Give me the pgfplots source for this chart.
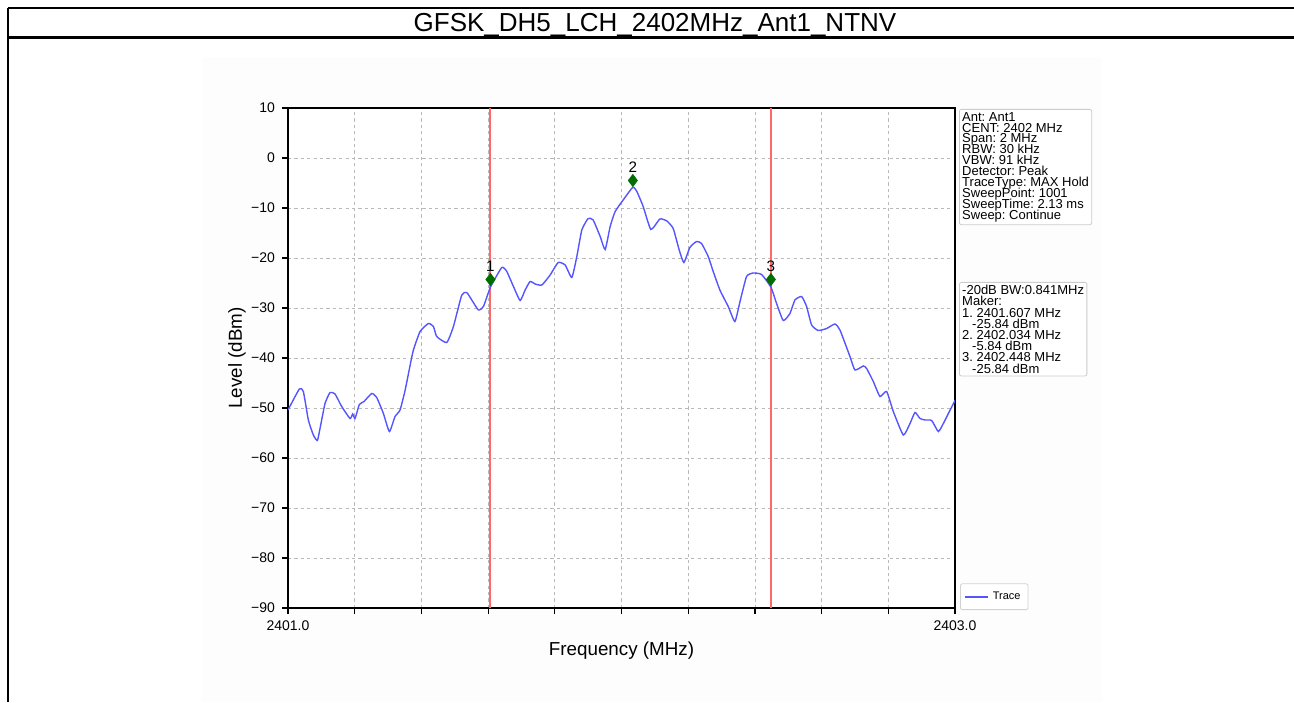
\documentclass[border=0pt]{standalone}
\usepackage{fontspec}
\setmainfont{Liberation Sans}
\usepackage{pgfplots}
\usepackage{pgfplotstable}
\pgfplotsset{compat=1.18}
\frenchspacing
\newcommand{\tightlines}{\lineskiplimit=-10pt\relax\lineskip=0pt\relax}
\definecolor{tracecol}{RGB}{85,85,255}
\definecolor{mkline}{RGB}{255,105,105}
\definecolor{mkgreen}{RGB}{0,110,0}
\definecolor{bgfaint}{RGB}{253,253,253}
% x = frequency offset from 2401.0 MHz
\pgfplotstableread{
x y
0.000 -50.4
0.034 -46.2
0.046 -46.7
0.061 -52.4
0.076 -55.4
0.088 -56.5
0.096 -54.1
0.111 -49.1
0.126 -46.9
0.141 -47.2
0.161 -49.7
0.186 -52.1
0.194 -51.2
0.201 -52.1
0.214 -49.3
0.228 -48.7
0.251 -47.1
0.266 -47.9
0.286 -51.1
0.304 -54.7
0.321 -51.7
0.336 -50.4
0.351 -46.5
0.366 -41.5
0.376 -38.4
0.396 -34.7
0.421 -33.1
0.436 -33.7
0.446 -35.7
0.476 -36.9
0.496 -33.7
0.521 -27.4
0.536 -26.9
0.551 -28.4
0.571 -30.4
0.586 -29.7
0.607 -25.84
0.641 -21.9
0.656 -22.7
0.676 -25.7
0.696 -28.5
0.711 -26.4
0.726 -24.7
0.741 -25.2
0.761 -25.4
0.786 -23.4
0.810 -20.9
0.831 -21.4
0.851 -23.9
0.866 -19.7
0.881 -14.4
0.900 -12.1
0.915 -12.4
0.936 -15.7
0.951 -18.3
0.966 -13.7
0.981 -10.7
1.005 -8.4
1.034 -5.84
1.046 -6.7
1.065 -9.7
1.088 -14.3
1.115 -12.2
1.136 -12.6
1.155 -14.1
1.173 -18.4
1.187 -20.9
1.205 -17.9
1.225 -16.7
1.240 -17.1
1.260 -19.7
1.275 -22.7
1.295 -26.4
1.320 -29.7
1.340 -32.7
1.355 -28.8
1.375 -23.7
1.395 -23.0
1.420 -23.3
1.448 -25.84
1.465 -29.1
1.485 -32.5
1.505 -31.1
1.520 -28.4
1.540 -27.7
1.555 -29.7
1.570 -33.4
1.590 -34.5
1.615 -34.1
1.640 -33.2
1.655 -34.4
1.685 -39.7
1.700 -42.4
1.725 -41.6
1.735 -42.1
1.755 -44.7
1.775 -47.7
1.795 -46.7
1.815 -50.7
1.845 -55.4
1.865 -53.1
1.880 -50.9
1.895 -52.1
1.910 -52.4
1.930 -52.5
1.950 -54.7
1.965 -53.1
1.980 -51.1
2.000 -48.5
}\tracedata
\pgfplotstableread{
x y label
0.607 -24.3 1
1.034 -4.5 2
1.448 -24.3 3
}\markerdata
\begin{document}
\begin{tikzpicture}[x=0.5pt,y=0.5pt]
% pixel coordinates: (px, 702-py)
\useasboundingbox (0,0) rectangle (1294,702);
\fill[bgfaint] (202,0) rectangle (1102,645);
% frame
\draw[line width=1.1pt] (8,694) -- (1294,694);
\draw[line width=1.1pt] (8,664.5) -- (1294,664.5);
\draw[line width=0.9pt] (8,694) -- (8,0);
\node[font=\fontsize{13}{15}\selectfont] at (655,677) {GFSK\_DH5\_LCH\_2402MHz\_Ant1\_NTNV};
\begin{axis}[
  at={(144pt,47pt)}, anchor=south west,
  scale only axis, width=333.5pt, height=250pt,
  axis background/.style={fill=white},
  xmin=0, xmax=2, ymin=-90, ymax=10,
  xtick={0,0.2,0.4,0.6,0.8,1.0,1.2,1.4,1.6,1.8,2.0},
  xticklabels={2401.0,,,,,,,,,,2403.0},
  ytick={-90,-80,-70,-60,-50,-40,-30,-20,-10,0,10},
  yticklabels={−90,−80,−70,−60,−50,−40,−30,−20,−10,0,10},
  tick label style={font=\fontsize{7}{8}\selectfont, black},
  grid=major,
  major grid style={gray!55, line width=0.35pt, dash pattern=on 1.6pt off 1.6pt},
  tick align=outside, tick pos=left, major tick length=3pt,
  every tick/.style={black, line width=0.6pt},
  axis line style={black, line width=0.8pt},
  xlabel={Frequency (MHz)}, ylabel={Level (dBm)},
  label style={font=\fontsize{9.4}{11}\selectfont},
  xlabel style={at={(axis description cs:0.5,-0.086)}, anchor=center},
  ylabel style={at={(axis description cs:-0.0765,0.5)}, anchor=center},
  legend style={at={(axis description cs:1,0)}, anchor=south west, xshift=2.5pt, yshift=-1pt,
    font=\fontsize{5.5}{6.5}\selectfont, draw=gray!35, rounded corners=1pt, inner sep=1.8pt,
    legend cell align=left},
  legend image code/.code={\draw[#1, line width=1pt] (0cm,0cm) -- (0.4cm,0cm);},
]
\addplot[mkline, line width=1pt, forget plot] coordinates {(0.607,-90) (0.607,10)};
\addplot[mkline, line width=1pt, forget plot] coordinates {(1.448,-90) (1.448,10)};
\addplot[tracecol, line width=0.7pt, smooth, tension=0.3] table[x=x,y=y] {\tracedata};
\addlegendentry{Trace}
\addplot[only marks, mark=diamond*, mark size=3pt, mkgreen, forget plot,
  nodes near coords, point meta=explicit symbolic,
  every node near coord/.style={black, font=\fontsize{7.6}{8}\selectfont, anchor=south, yshift=0.6pt}]
  table[x=x,y=y,meta=label] {\markerdata};
\end{axis}
% info boxes
\node[draw=gray!40, fill=white, rounded corners=1pt, anchor=north west, align=left, inner sep=1.4pt,
  font=\fontsize{6.5}{5.45}\selectfont\tightlines] at (959,593) {%
Ant: Ant1\\CENT: 2402 MHz\\Span: 2 MHz\\RBW: 30 kHz\\VBW: 91 kHz\\Detector: Peak\\TraceType: MAX Hold\\SweepPoint: 1001\\SweepTime: 2.13 ms\\Sweep: Continue};
\node[draw=gray!40, fill=white, rounded corners=1pt, anchor=north west, align=left, inner sep=1.4pt,
  font=\fontsize{6.5}{5.6}\selectfont\tightlines] at (959,420) {%
-20dB BW:0.841MHz\\Maker:\\1. 2401.607 MHz\\\hspace*{5pt}-25.84 dBm\\2. 2402.034 MHz\\\hspace*{5pt}-5.84 dBm\\3. 2402.448 MHz\\\hspace*{5pt}-25.84 dBm};
\end{tikzpicture}
\end{document}
